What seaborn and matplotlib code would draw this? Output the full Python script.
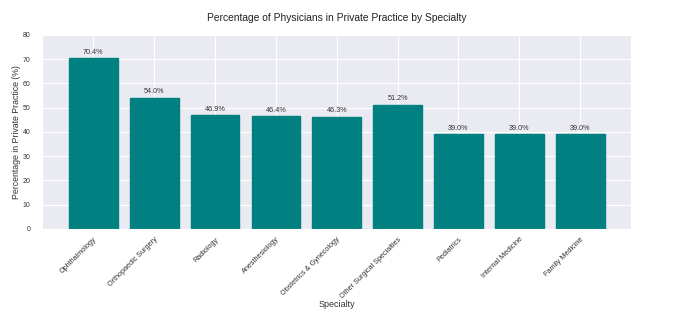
import matplotlib
matplotlib.use("Agg")
import matplotlib.pyplot as plt
import seaborn as sns
import pandas as pd

specialties = ["Ophthalmology", "Orthopaedic Surgery", "Radiology", "Anesthesiology",
               "Obstetrics & Gynecology", "Other Surgical Specialties", "Pediatrics",
               "Internal Medicine", "Family Medicine"]
percentages = [70.4, 54.0, 46.9, 46.4, 46.3, 51.2, 39.0, 39.0, 39.0]
yticks = [0, 10, 20, 30, 40, 50, 60, 70, 80]

sns.set_style("darkgrid")
plt.rcParams['font.family'] = ['Liberation Sans', 'DejaVu Sans']

df = pd.DataFrame({"Specialty": specialties, "Pct": percentages})

fig = plt.figure(figsize=(6.81, 3.14), dpi=100)
ax = fig.add_axes([0.062, 0.271, 0.865, 0.618])
sns.barplot(data=df, x="Specialty", y="Pct", color="#008080", saturation=1,
            width=0.8, ax=ax)
ax.grid(True, axis="both", color="white", linewidth=0.8)
ax.set_axisbelow(True)
for p, v in zip(ax.patches, percentages):
    p.set_edgecolor("#008080")
    ax.text(p.get_x() + p.get_width() / 2, v + 1, f"{v:.1f}%",
            ha="center", va="bottom", fontsize=5.2, color="#333333")
ax.set_xlim(-0.84, 8.84)
ax.set_ylim(0, 80)
ax.set_yticks(yticks)
ax.tick_params(axis='y', labelsize=5, colors="#333333", pad=5)
ax.tick_params(axis='x', labelsize=5.2, colors="#333333", pad=1.5)
plt.setp(ax.get_xticklabels(), rotation=45, ha="right", rotation_mode="anchor")
ax.set_xlabel("Specialty", fontsize=6.5, color="#333333", labelpad=0)
ax.set_ylabel("Percentage in Private Practice (%)", fontsize=6.3, color="#333333", labelpad=1)
ax.set_title("Percentage of Physicians in Private Practice by Specialty",
             fontsize=7.4, color="#222222", pad=10)
fig.savefig("out.png", dpi=100)
